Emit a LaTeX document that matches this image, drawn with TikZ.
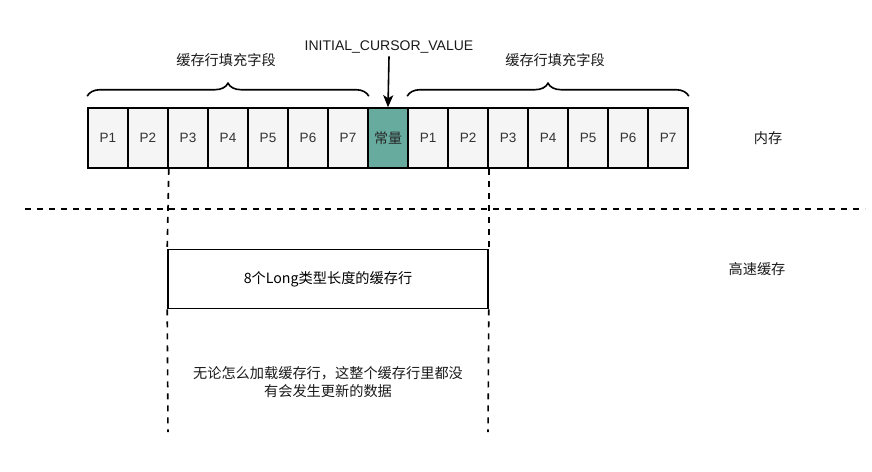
\documentclass[tikz,border=0pt]{standalone}
\usepackage{fontspec}
\setmainfont{Liberation Sans}
\newfontfamily\cjk{Noto Sans CJK SC}
\usetikzlibrary{arrows.meta,decorations.pathreplacing}
\definecolor{cellgray}{HTML}{F5F5F5}
\definecolor{constgreen}{HTML}{67AB9F}
\tikzset{
  cellbox/.style={draw=black, line width=1.6pt, fill=cellgray, minimum width=40pt, minimum height=60pt, inner sep=0pt, font=\fontsize{13.5}{15}\selectfont, text=black!80},
  constbox/.style={cellbox, fill=constgreen, font=\cjk\fontsize{14}{15}\selectfont, text=black!85},
  lbl/.style={inner sep=0pt, font=\fontsize{14}{17}\selectfont, text=black!90},
  cjklbl/.style={inner sep=0pt, font=\cjk\fontsize{14.2}{18}\selectfont, text=black!90, align=center},
  dashline/.style={line width=1.6pt, dash pattern=on 6pt off 6pt},
  bracestyle/.style={line width=1.6pt, decorate, decoration={brace, amplitude=13pt, aspect=0.5}},
}
\begin{document}
\begin{tikzpicture}[x=1pt,y=-1pt]
\useasboundingbox (0,0) rectangle (872,471);
% cells
\foreach \i in {1,...,7} {
  \node[cellbox] (L\i) at ({108+40*(\i-1)},138) {P\i};
}
\node[constbox] (C) at (388,138) {常量};
\foreach \i in {1,...,7} {
  \node[cellbox] (R\i) at ({428+40*(\i-1)},138) {P\i};
}
% labels
\node[cjklbl] (lbraceL) at (226,60) {缓存行填充字段};
\node[cjklbl] (lbraceR) at (555,60) {缓存行填充字段};
\node[lbl] (icv) at (389,47) {INITIAL\_CURSOR\_VALUE};
\node[cjklbl] (mem) at (768,138) {内存};
\node[cjklbl] (cache) at (757,269) {高速缓存};
% braces
\draw[bracestyle] ([yshift=11pt]L1.north west) -- ([yshift=11pt]L7.north east);
\draw[bracestyle] ([yshift=11pt]R1.north west) -- ([yshift=11pt]R7.north east);
% arrow
\draw[line width=1.6pt, -{Stealth[length=12pt, width=10pt, inset=3pt]}] ([yshift=-3pt]icv.south) -- (C.north);
% horizontal dashed line
\coordinate (hl) at (25,209);
\coordinate (hr) at (865,209);
\draw[dashline] (hl) -- (hr);
% cache line box
\node[draw=black, line width=1.6pt, fill=white, minimum width=320pt, minimum height=59pt, inner sep=0pt] (line) at (328,279) {\cjk\fontsize{14.2}{15}\selectfont 8个Long类型长度的缓存行};
% vertical dashed lines
\coordinate (vlb) at (168,432);
\coordinate (vrb) at (488,432);
\draw[dashline] (L2.south east) -- (line.north west);
\draw[dashline] (R2.south east) -- (line.north east);
\draw[dashline] (line.south west) -- (vlb);
\draw[dashline] (line.south east) -- (vrb);
% bottom note
\node[cjklbl] (note) at (328,382) {无论怎么加载缓存行，这整个缓存行里都没\\有会发生更新的数据};
\end{tikzpicture}
\end{document}
